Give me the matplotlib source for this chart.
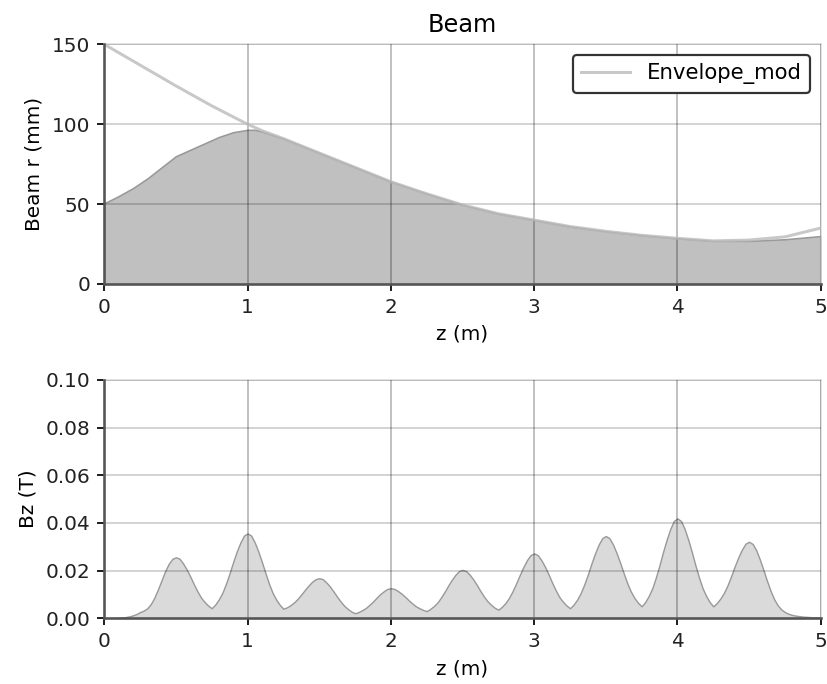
import numpy as np
import matplotlib
matplotlib.use("Agg")
import matplotlib.pyplot as plt

# beam envelope (filled) and modified envelope line, z in m, r in mm
z_env = [0, 0.1, 0.2, 0.3, 0.4, 0.5, 0.6, 0.7, 0.8, 0.9, 1.0, 1.05, 1.1, 1.25, 1.5,
         1.75, 2.0, 2.25, 2.5, 2.75, 3.0, 3.25, 3.5, 3.75, 4.0, 4.25, 4.5, 4.75, 5.0]
r_env = [50.5, 55, 60, 66, 73, 80, 84, 88, 92, 95, 96.5, 96.5, 95.5, 91, 82,
         73, 64, 56.5, 49.5, 44, 40, 36, 33, 30.5, 28.6, 27, 27, 28, 30]

z_mod = [0, 0.25, 0.5, 0.75, 1.0, 1.1, 1.25, 1.5, 1.75, 2.0, 2.25, 2.5, 2.75,
         3.0, 3.25, 3.5, 3.75, 4.0, 4.25, 4.5, 4.75, 5.0]
r_mod = [150, 137, 124, 111.5, 100, 96, 91, 82, 73, 64, 56.5, 49.5, 44,
         40, 36, 33, 30.5, 28.6, 27, 27.5, 29.5, 35]

# on-axis field, sampled every 0.025 m (one row = 0.25 m)
z_bz = np.round(np.arange(0, 5.0001, 0.025), 3)
bz = [0.0000, 0.0000, 0.0001, 0.0001, 0.0002, 0.0003, 0.0005, 0.0008, 0.0012, 0.0018,
      0.0026, 0.0032, 0.0042, 0.0060, 0.0087, 0.0122, 0.0160, 0.0198, 0.0229, 0.0249,
      0.0256, 0.0250, 0.0230, 0.0205, 0.0175, 0.0143, 0.0113, 0.0087, 0.0068, 0.0053,
      0.0042, 0.0058, 0.0080, 0.0108, 0.0146, 0.0190, 0.0237, 0.0281, 0.0318, 0.0347,
      0.0356, 0.0347, 0.0318, 0.0280, 0.0236, 0.0189, 0.0144, 0.0106, 0.0078, 0.0056,
      0.0040, 0.0046, 0.0055, 0.0067, 0.0082, 0.0100, 0.0119, 0.0137, 0.0153, 0.0164,
      0.0168, 0.0164, 0.0150, 0.0133, 0.0112, 0.0090, 0.0070, 0.0052, 0.0039, 0.0028,
      0.0021, 0.0026, 0.0034, 0.0043, 0.0056, 0.0070, 0.0086, 0.0101, 0.0113, 0.0123,
      0.0126, 0.0123, 0.0114, 0.0103, 0.0090, 0.0075, 0.0062, 0.0050, 0.0042, 0.0035,
      0.0030, 0.0039, 0.0051, 0.0066, 0.0087, 0.0111, 0.0137, 0.0161, 0.0182, 0.0198,
      0.0203, 0.0198, 0.0183, 0.0163, 0.0140, 0.0114, 0.0091, 0.0071, 0.0056, 0.0044,
      0.0036, 0.0048, 0.0064, 0.0086, 0.0114, 0.0147, 0.0182, 0.0215, 0.0244, 0.0265,
      0.0272, 0.0265, 0.0244, 0.0217, 0.0185, 0.0150, 0.0118, 0.0090, 0.0070, 0.0054,
      0.0042, 0.0057, 0.0078, 0.0106, 0.0142, 0.0184, 0.0230, 0.0272, 0.0309, 0.0336,
      0.0345, 0.0336, 0.0310, 0.0274, 0.0233, 0.0189, 0.0147, 0.0112, 0.0085, 0.0065,
      0.0050, 0.0068, 0.0094, 0.0127, 0.0172, 0.0223, 0.0279, 0.0330, 0.0375, 0.0408,
      0.0419, 0.0408, 0.0375, 0.0330, 0.0279, 0.0223, 0.0172, 0.0127, 0.0094, 0.0068,
      0.0050, 0.0064, 0.0083, 0.0107, 0.0139, 0.0177, 0.0218, 0.0256, 0.0288, 0.0313,
      0.0321, 0.0312, 0.0285, 0.0247, 0.0203, 0.0157, 0.0115, 0.0080, 0.0054, 0.0037,
      0.0026, 0.0019, 0.0014, 0.0011, 0.0009, 0.0007, 0.0006, 0.0005, 0.0004, 0.0004,
      0.0003]

fig = plt.figure(figsize=(827 / 144, 684 / 144), dpi=144)
ax1 = fig.add_axes([0.1261, 0.5848, 0.8663, 0.3504])
ax2 = fig.add_axes([0.1261, 0.0961, 0.8663, 0.3484])


def style(ax, yticks):
    # grid drawn over the filled areas, semi-transparent
    for x in range(0, 6):
        ax.axvline(x, color="black", alpha=0.3, lw=0.8, zorder=3)
    for y in yticks[1:]:
        ax.axhline(y, color="black", alpha=0.17, lw=1.0, zorder=3)
    for sp in ["top", "right"]:
        ax.spines[sp].set_color("#dddddd")
        ax.spines[sp].set_linewidth(0.8)
    for sp in ["left", "bottom"]:
        ax.spines[sp].set_color("#555555")
        ax.spines[sp].set_linewidth(1.3)
        ax.spines[sp].set_zorder(5)
    ax.tick_params(colors="#222222", length=3.5, width=1.0)
    ax.set_xlim(0, 5)
    ax.set_xticks(range(0, 6))
    ax.set_ylim(yticks[0], yticks[-1])
    ax.set_yticks(yticks)
    ax.set_xlabel("z (m)")


# top: beam radius
style(ax1, [0, 50, 100, 150])
ax1.fill_between(z_env, 0, r_env, facecolor="#c0c0c0", edgecolor="#999999",
                 lw=0.8, zorder=2)
ax1.plot(z_mod, r_mod, color="#bbbbbb", lw=1.5, alpha=0.8, zorder=4,
         label="Envelope_mod")
ax1.set_ylabel("Beam r (mm)")
ax1.set_title("Beam")
leg = ax1.legend(loc="upper right", fancybox=True, framealpha=1,
                 fontsize=10.6, handlelength=2.3)
leg.get_frame().set_edgecolor("#333333")
leg.get_frame().set_linewidth(1.1)
leg.set_zorder(6)

# bottom: field
style(ax2, [0.0, 0.02, 0.04, 0.06, 0.08, 0.10])
ax2.fill_between(z_bz, 0, bz, facecolor="#dadada", edgecolor="#999999",
                 lw=0.7, zorder=2)
ax2.set_yticklabels(["0.00", "0.02", "0.04", "0.06", "0.08", "0.10"])
ax2.set_ylabel("Bz (T)")

fig.savefig("out.png", dpi=144)
